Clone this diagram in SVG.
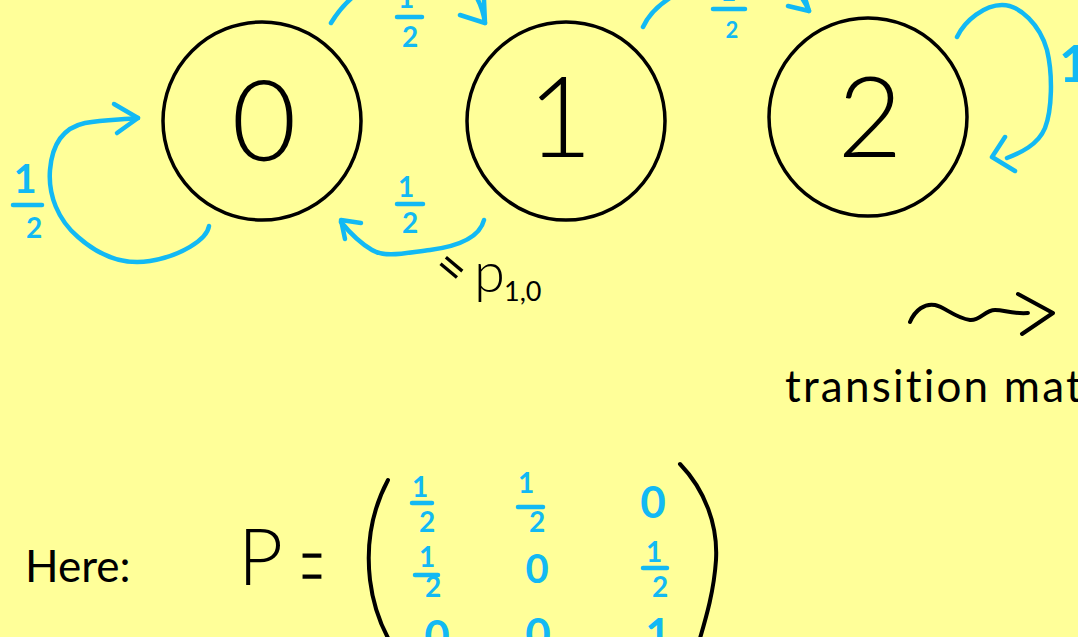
<svg xmlns="http://www.w3.org/2000/svg" width="1078" height="637" viewBox="0 0 1078 637">
<style>
.node{fill:none;stroke:#000;stroke-width:3.5}
.dig{font-family:Lato,"Liberation Sans",sans-serif;font-weight:300;font-size:112px;fill:#000;text-anchor:middle}
.ink{font-family:Lato,"Liberation Sans",sans-serif;font-weight:400;fill:#000}
.bl{fill:none;stroke:#12B9F4;stroke-width:4.5;stroke-linecap:round;stroke-linejoin:round}
.bk{fill:none;stroke:#000;stroke-width:4;stroke-linecap:round;stroke-linejoin:round}
.bt{font-family:Lato,"Liberation Sans",sans-serif;font-weight:700;font-size:28px;fill:#12B9F4;text-anchor:middle}
</style>
<rect width="1078" height="637" fill="#FFFF99"/>

<g id="state0">
<circle class="node" cx="262" cy="121" r="99"/>
<text class="dig" x="264" y="161">0</text>
</g>
<g id="state1">
<circle class="node" cx="566" cy="121" r="99"/>
<text class="dig" x="560" y="157">1</text>
</g>
<g id="state2">
<circle class="node" cx="868" cy="117" r="99"/>
<text class="dig" x="870" y="157">2</text>
</g>

<g id="connectors">
<!-- loop on 0 -->
<path class="bl" d="M209,226 C207,240 180,256 150,261 C120,266 95,252 78,237 C58,220 48,195 50,170 C52,145 62,128 85,123 C105,119 120,120 138,118"/>
<path class="bl" d="M114,104 L138,118 L117,133"/>
<text class="bt" x="25" y="193" style="font-size:40px">1</text>
<path class="bl" d="M13,205 L42,205"/>
<text class="bt" x="34" y="238">2</text>
<!-- 1 to 0 -->
<path class="bl" d="M484,220 C480,236 460,246 430,250 C405,253 385,258 372,250 C360,243 350,233 341,222"/>
<path class="bl" d="M361,223 L341,220 L345,239"/>
<text class="bt" x="406" y="197">1</text>
<path class="bl" d="M397,204 L423,204"/>
<text class="bt" x="410" y="233">2</text>
<!-- 0 to 1 -->
<path class="bl" d="M331,23 C345,0 370,-25 420,-28 C460,-30 480,-10 485,23"/>
<path class="bl" d="M460,15 L485,23 L484,0"/>
<text class="bt" x="406" y="8">1</text>
<path class="bl" d="M397,17 L422,17"/>
<text class="bt" x="410" y="47">2</text>
<!-- 1 to 2 -->
<path class="bl" d="M643,27 C655,0 700,-25 750,-25 C785,-25 800,-10 809,11"/>
<path class="bl" d="M788,6 L809,11 L805,-2"/>
<text class="bt" x="728" y="1">1</text>
<path class="bl" d="M713,9 L745,9"/>
<text class="bt" x="732" y="38" style="font-size:22px">2</text>
<!-- loop on 2 -->
<path class="bl" d="M957,37 C965,20 985,5 1002,5 C1020,5 1040,25 1047,50 C1053,75 1052,110 1045,128 C1038,145 1020,153 1007,158"/>
<path class="bl" d="M1005,137 L992,157 L1015,171"/>
<text class="bt" x="1074" y="82" style="font-size:52px">1</text>
</g>

<g id="annotation-p10">
<text class="ink" x="451" y="284" style="font-size:50px" text-anchor="middle" transform="rotate(40 451 268)">=</text>
<text class="ink" x="474" y="292" style="font-size:56px;font-weight:300">p</text>
<text class="ink" x="504" y="301" style="font-size:27px">1,0</text>
</g>

<g id="transition-note">
<path class="bk" d="M910,322 C915,310 925,303 935,305 C945,307 955,318 970,320 C980,321 985,310 995,310 C1005,310 1010,314 1028,313"/>
<path class="bk" d="M1018,294 L1053,313 L1022,334"/>
<text class="ink" x="785" y="402" style="font-size:44px;letter-spacing:2.2px">transition mat</text>
</g>

<g id="matrix">
<text class="ink" x="25" y="582" style="font-size:44px">Here:</text>
<text class="ink" x="238" y="585" style="font-size:78px;font-weight:300">P</text>
<text class="ink" x="0" y="0" style="font-size:140px;font-weight:100;stroke:#000;stroke-width:3" text-anchor="middle" transform="translate(312,614) scale(0.32,1)">=</text>
<path class="bk" d="M388,480 C372,510 366,545 370,580 C373,605 380,625 392,645"/>
<path class="bk" d="M680,464 C705,490 718,525 716,560 C714,590 707,615 698,645"/>
<text class="bt" x="420" y="497">1</text>
<path class="bl" d="M412,503 L432,503"/>
<text class="bt" x="427" y="532">2</text>
<text class="bt" x="526" y="493">1</text>
<path class="bl" d="M518,507 L543,507"/>
<text class="bt" x="537" y="532">2</text>
<text class="bt" x="653" y="518" style="font-size:44px">0</text>
<text class="bt" x="427" y="567">1</text>
<path class="bl" d="M415,575 L438,575"/>
<text class="bt" x="433" y="597">2</text>
<text class="bt" x="537" y="583" style="font-size:40px">0</text>
<text class="bt" x="654" y="562">1</text>
<path class="bl" d="M643,568 L667,568"/>
<text class="bt" x="660" y="597">2</text>
<text class="bt" x="437" y="652" style="font-size:44px">0</text>
<text class="bt" x="538" y="650" style="font-size:44px">0</text>
<text class="bt" x="658" y="650" style="font-size:44px">1</text>
</g>
</svg>
